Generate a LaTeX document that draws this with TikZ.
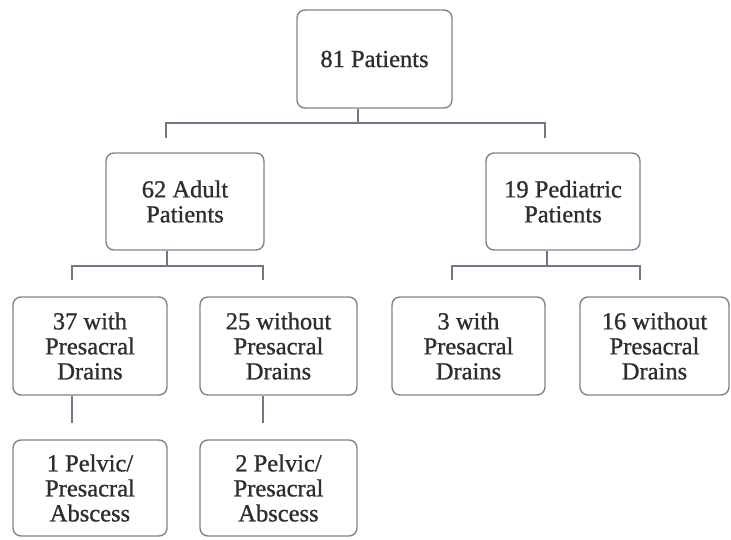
\documentclass[tikz,border=0pt]{standalone}
\usepackage{fontspec}
\setmainfont{Liberation Serif}
\newfontfamily\boxfont[FakeBold=0.9]{Liberation Serif}
\definecolor{boxline}{HTML}{7B8496}
\definecolor{linkline}{HTML}{6E7889}
\definecolor{txt}{HTML}{2E2E2E}
\begin{document}
\begin{tikzpicture}[x=1pt,y=-1pt,
  box/.style={draw=boxline,line width=1.4pt,rounded corners=8pt,fill=white,
    align=center,text=txt,inner sep=0pt,
    font=\boxfont\fontsize{24.5}{25}\selectfont},
  link/.style={draw=linkline,line width=1.3pt}]
\useasboundingbox (0,0) rectangle (731,539);

% boxes
\node[box,minimum width=155pt,minimum height=98pt] (top)   at (374.5,59)  {81 Patients};
\node[box,minimum width=158pt,minimum height=97pt] (adult) at (185,201.5)  {62 Adult\\Patients};
\node[box,minimum width=154pt,minimum height=97pt] (ped)   at (563,201.5)  {19 Pediatric\\Patients};
\node[box,minimum width=154pt,minimum height=98pt] (aw)    at (90,346)     {37 with\\Presacral\\Drains};
\node[box,minimum width=157pt,minimum height=98pt] (awo)   at (278.5,346)  {25 without\\Presacral\\Drains};
\node[box,minimum width=153pt,minimum height=98pt] (pw)    at (468.5,346)  {3 with\\Presacral\\Drains};
\node[box,minimum width=149pt,minimum height=98pt] (pwo)   at (654.5,346)  {16 without\\Presacral\\Drains};
\node[box,minimum width=154pt,minimum height=96pt] (abw)   at (90,488)     {1 Pelvic/\\Presacral\\Abscess};
\node[box,minimum width=157pt,minimum height=96pt] (abwo)  at (278.5,488)  {2 Pelvic/\\Presacral\\Abscess};

% junction points of the tree lines
\coordinate (j0) at (358,123);
\coordinate (l0) at (166,138);
\coordinate (r0) at (545,138);
\coordinate (j1) at (167,266);
\coordinate (l1) at (72,280);
\coordinate (r1) at (263,280);
\coordinate (j2) at (547,266);
\coordinate (l2) at (452,280);
\coordinate (r2) at (640,280);
\coordinate (e1) at (72,423);
\coordinate (e2) at (263,423);

% top level split
\draw[link] (j0 |- top.south) -- (j0);
\draw[link] (l0) -- (l0 |- j0) -- (r0 |- j0) -- (r0);
% adult split
\draw[link] (j1 |- adult.south) -- (j1);
\draw[link] (l1) -- (l1 |- j1) -- (r1 |- j1) -- (r1);
% pediatric split
\draw[link] (j2 |- ped.south) -- (j2);
\draw[link] (l2) -- (l2 |- j2) -- (r2 |- j2) -- (r2);
% abscess branches
\draw[link] (e1 |- aw.south) -- (e1);
\draw[link] (e2 |- awo.south) -- (e2);
\end{tikzpicture}
\end{document}
